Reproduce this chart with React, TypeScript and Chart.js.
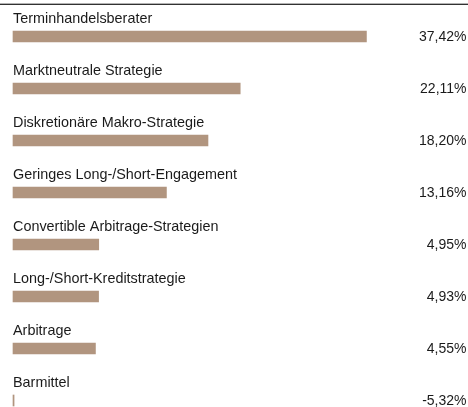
import React, { useEffect, useRef } from "react";
import { Chart, registerables } from "chart.js";

Chart.register(...registerables);

const categories = [
  "Terminhandelsberater",
  "Marktneutrale Strategie",
  "Diskretionäre Makro-Strategie",
  "Geringes Long-/Short-Engagement",
  "Convertible Arbitrage-Strategien",
  "Long-/Short-Kreditstrategie",
  "Arbitrage",
  "Barmittel",
];
const values = [37.42, 22.11, 18.2, 13.16, 4.95, 4.93, 4.55, -5.32];
const valueLabels = ["37,42%", "22,11%", "18,20%", "13,16%", "4,95%", "4,93%", "4,55%", "-5,32%"];

const X_MIN = -5.45;
const X_MAX = 40;
const BAR_COLOR = "#b1957f";
const TEXT_COLOR = "#1a1a1a";
const LABEL_FONT = "14.4px 'Liberation Sans', Arial, sans-serif";
const VALUE_FONT = "14px 'Liberation Sans', Arial, sans-serif";

export default function App() {
  const ref = useRef<HTMLCanvasElement | null>(null);

  useEffect(() => {
    if (!ref.current) return;
    const labelPlugin = {
      id: "labelPlugin",
      afterDatasetsDraw(chart: any) {
        const ctx = chart.ctx;
        const yScale = chart.scales.y;
        ctx.save();
        ctx.fillStyle = "#000";
        ctx.fillRect(0, 3.7, chart.width, 1.1);
        ctx.fillStyle = TEXT_COLOR;
        ctx.textBaseline = "alphabetic";
        categories.forEach((c, i) => {
          const y = yScale.getPixelForValue(i);
          ctx.font = LABEL_FONT;
          ctx.textAlign = "left";
          ctx.fillText(c, 13, y - 13.5);
          ctx.font = VALUE_FONT;
          ctx.textAlign = "right";
          ctx.fillText(valueLabels[i], 466.5, y + 4.8);
        });
        ctx.restore();
      },
    };
    const chart = new Chart(ref.current, {
      type: "bar",
      data: {
        labels: categories,
        datasets: [
          {
            data: values,
            base: X_MIN,
            backgroundColor: BAR_COLOR,
            borderWidth: 0,
            barThickness: 11,
            clip: false,
          } as any,
        ],
      },
      options: {
        indexAxis: "y",
        responsive: false,
        animation: false,
        layout: { padding: { left: 13, right: 80.3, top: 36.5, bottom: 6.5 } },
        plugins: { legend: { display: false }, tooltip: { enabled: false } },
        scales: {
          x: { display: false, min: X_MIN, max: X_MAX },
          y: { display: false, offset: false, grid: { display: false } },
        },
      },
      plugins: [labelPlugin],
    });
    return () => chart.destroy();
  }, []);

  return (
    <div style={{ position: "absolute", left: 0, top: 0, width: 468, height: 407, background: "#fff" }}>
      <canvas ref={ref} width={468} height={407} style={{ display: "block" }} />
    </div>
  );
}
